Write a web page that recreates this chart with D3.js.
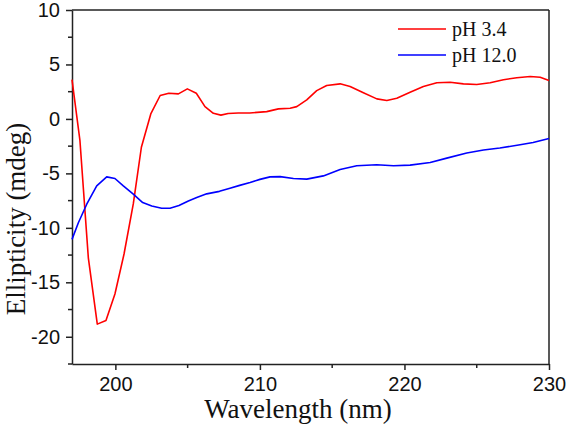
<!DOCTYPE html>
<html><head><meta charset="utf-8">
<script src="https://cdn.jsdelivr.net/npm/d3@7"></script>
<style>body{margin:0;background:#fff}svg{display:block}</style>
</head><body><svg id="c" width="566" height="427"></svg>
<script>
const wlRed = [197.0,197.55,198.13,198.75,199.35,199.97,200.6,201.24,201.8,202.45,203.1,203.7,204.36,204.98,205.6,206.2,206.78,207.3,207.8,208.5,209.3,210.47,211.28,212.09,212.55,213.24,213.93,214.62,215.55,216.24,217.16,218.09,218.78,219.47,220.39,221.31,222.24,223.16,224.08,225.0,225.93,226.85,227.77,228.7,229.39,230.0];
const valRed = [3.6,-2.0,-12.75,-18.84,-18.5,-16.07,-12.4,-7.8,-2.6,0.46,2.15,2.36,2.3,2.76,2.36,1.13,0.52,0.35,0.5,0.55,0.55,0.67,0.92,0.98,1.13,1.75,2.6,3.07,3.22,2.98,2.4,1.84,1.69,1.9,2.45,2.98,3.32,3.37,3.22,3.16,3.32,3.6,3.78,3.9,3.83,3.53];
const wlBlue = [197.0,197.44,198.02,198.71,199.4,199.97,200.55,201.24,201.89,202.52,203.2,203.78,204.4,205.05,205.63,206.32,207.2,207.93,208.6,209.32,210.0,210.7,211.4,212.32,213.24,214.39,215.55,216.7,218.08,219.24,220.39,221.78,222.93,224.31,225.47,226.6,228.0,228.9,230.0];
const valBlue = [-11.06,-9.53,-7.83,-6.15,-5.32,-5.47,-6.15,-6.91,-7.68,-7.99,-8.2,-8.2,-7.95,-7.53,-7.22,-6.88,-6.65,-6.36,-6.1,-5.84,-5.55,-5.32,-5.3,-5.47,-5.53,-5.23,-4.65,-4.3,-4.21,-4.3,-4.24,-4.0,-3.6,-3.13,-2.86,-2.67,-2.37,-2.16,-1.79];
const seriesNames = ["pH 3.4","pH 12.0"];
const seriesColors = ["#ff0000","#0000ff"];
const xTicks = [200,210,220,230];
const xMinor = [205,215,225];
const yTicks = [-20,-15,-10,-5,0,5,10];
const yMinor = [-22.5,-17.5,-12.5,-7.5,-2.5,2.5,7.5];

const W=566,H=427, m={l:72,r:17,t:10,b:63};
const svg=d3.select("#c");
const x=d3.scaleLinear().domain([197,230]).range([m.l,W-m.r]);
const y=d3.scaleLinear().domain([-22.5,10]).range([H-m.b,m.t]);
const axCol="#222";

svg.append("line").attr("x1",m.l).attr("x2",W-m.r).attr("y1",m.t).attr("y2",m.t).attr("stroke",axCol).attr("stroke-width",1.5);
svg.append("line").attr("x1",W-m.r).attr("x2",W-m.r).attr("y1",m.t).attr("y2",H-m.b).attr("stroke",axCol).attr("stroke-width",1.5);

const fmt=v=>String(v);
const gx=svg.append("g").attr("transform",`translate(0,${H-m.b})`)
  .call(d3.axisBottom(x).tickValues(xTicks).tickFormat(fmt).tickSize(6).tickSizeOuter(0).tickPadding(7));
xMinor.forEach(v=>gx.append("line").attr("x1",x(v)).attr("x2",x(v)).attr("y1",0).attr("y2",4).attr("stroke",axCol).attr("stroke-width",1.5));
const gy=svg.append("g").attr("transform",`translate(${m.l},0)`)
  .call(d3.axisLeft(y).tickValues(yTicks).tickFormat(fmt).tickSize(6).tickSizeOuter(0).tickPadding(6));
yMinor.forEach(v=>gy.append("line").attr("x1",0).attr("x2",-4).attr("y1",y(v)).attr("y2",y(v)).attr("stroke",axCol).attr("stroke-width",1.5));
[gx,gy].forEach(g=>{
  g.select(".domain").attr("stroke",axCol).attr("stroke-width",1.5);
  g.selectAll(".tick line").attr("stroke",axCol).attr("stroke-width",1.5);
  g.selectAll(".tick text").attr("font-family","'Liberation Sans',Arial,sans-serif").attr("font-size",20).attr("fill","#111");
});

const line=d3.line().x(d=>x(d[0])).y(d=>y(d[1]));
const data=[d3.zip(wlRed,valRed), d3.zip(wlBlue,valBlue)];
data.forEach((d,i)=>svg.append("path").datum(d).attr("d",line).attr("fill","none")
  .attr("stroke",seriesColors[i]).attr("stroke-width",1.6).attr("stroke-linejoin","round"));

seriesNames.forEach((n,i)=>{
  const ly=29+i*26;
  svg.append("line").attr("x1",398).attr("x2",446).attr("y1",ly).attr("y2",ly).attr("stroke",seriesColors[i]).attr("stroke-width",1.6);
  svg.append("text").attr("x",452).attr("y",ly+7).text(n)
    .attr("font-family","'Liberation Serif','Times New Roman',serif").attr("font-size",20).attr("fill","#111");
});

svg.append("text").attr("x",298).attr("y",418).attr("text-anchor","middle").text("Wavelength (nm)")
  .attr("font-family","'Liberation Serif','Times New Roman',serif").attr("font-size",27).attr("fill","#111");
svg.append("text").attr("transform","translate(25,219) rotate(-90)").attr("text-anchor","middle").text("Ellipticity (mdeg)")
  .attr("font-family","'Liberation Serif','Times New Roman',serif").attr("font-size",27).attr("fill","#111");
</script></body></html>
